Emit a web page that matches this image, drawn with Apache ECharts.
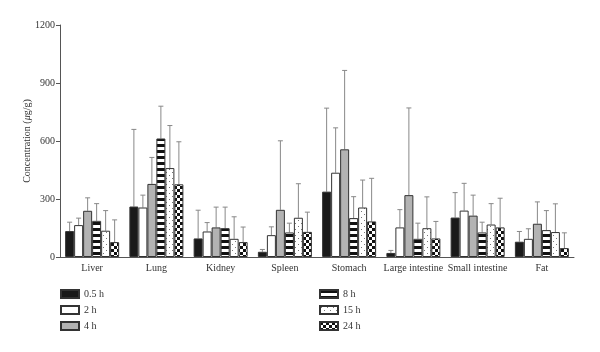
<!DOCTYPE html>
<html>
<head>
<meta charset="utf-8">
<script src="https://cdn.jsdelivr.net/npm/echarts@6/dist/echarts.min.js"></script>
<style>
  html, body { margin: 0; padding: 0; background: #fff; }
  #chart { width: 600px; height: 352px; }
</style>
</head>
<body>
<div id="chart"></div>
<script>
var organs = ['Liver', 'Lung', 'Kidney', 'Spleen', 'Stomach', 'Large intestine', 'Small intestine', 'Fat'];
var times = ['0.5 h', '2 h', '4 h', '8 h', '15 h', '24 h'];
var yTicks = [0, 300, 600, 900, 1200];

// mean concentration for each time point (one value per organ)
var h05 = [134, 261, 96, 27, 338, 21, 204, 79];
var h2 = [165, 256, 132, 113, 436, 153, 240, 94];
var h4 = [239, 378, 153, 244, 557, 320, 214, 172];
var h8 = [187, 613, 149, 127, 201, 94, 127, 139];
var h15 = [136, 460, 94, 203, 256, 149, 168, 129];
var h24 = [77, 376, 77, 130, 184, 96, 153, 46];

// standard deviations (upper error bars)
var sd05 = [46, 399, 146, 12, 432, 13, 129, 53];
var sd2 = [36, 64, 46, 43, 232, 92, 141, 52];
var sd4 = [67, 137, 105, 357, 408, 451, 106, 113];
var sd8 = [89, 167, 109, 48, 111, 81, 53, 101];
var sd15 = [104, 220, 114, 176, 142, 162, 108, 146];
var sd24 = [115, 220, 78, 102, 223, 88, 151, 79];

var means = [h05, h2, h4, h8, h15, h24];
var sds = [sd05, sd2, sd4, sd8, sd15, sd24];

var FONT = '"Liberation Serif", "DejaVu Serif", serif';
var BAR_W = 9;

// small canvas fills for the patterned bars
var makePattern = function(w, h, draw) {
  var c = document.createElement('canvas');
  c.width = w; c.height = h;
  var ctx = c.getContext('2d');
  ctx.fillStyle = '#fff';
  ctx.fillRect(0, 0, w, h);
  draw(ctx);
  return { image: c, repeat: 'repeat' };
};

var stripes = makePattern(6, 6, function(ctx) {
  ctx.fillStyle = '#111';
  ctx.fillRect(0, 0, 6, 3);
});
var dots = makePattern(6, 6, function(ctx) {
  ctx.fillStyle = '#777';
  ctx.fillRect(1, 1, 1, 1);
  ctx.fillRect(4, 4, 1, 1);
});
var checks = makePattern(6, 6, function(ctx) {
  ctx.fillStyle = '#111';
  ctx.fillRect(0, 0, 3, 3);
  ctx.fillRect(3, 3, 3, 3);
});

var fills = ['#1a1a1a', '#ffffff', '#b3b3b3', stripes, dots, checks];

var series = [];
times.forEach(function(t, i) {
  series.push({
    name: t,
    type: 'bar',
    barWidth: BAR_W,
    barGap: '0%',
    data: means[i],
    itemStyle: { color: fills[i], borderColor: '#333', borderWidth: 1 },
    emphasis: { disabled: true },
    z: 3
  });
});

// error bars, one custom series per time point, shifted onto its bar
times.forEach(function(t, i) {
  var offset = (i - 2.5) * BAR_W;
  var data = organs.map(function(o, k) { return [k, means[i][k], sds[i][k]]; });
  series.push({
    name: 'err ' + t,
    type: 'custom',
    data: data,
    z: 2,
    silent: true,
    renderItem: function(params, api) {
      var base = api.coord([api.value(0), api.value(1)]);
      var top = api.coord([api.value(0), api.value(1) + api.value(2)]);
      var x = base[0] + offset;
      var style = { stroke: '#888', lineWidth: 1 };
      return {
        type: 'group',
        children: [
          { type: 'line', shape: { x1: x, y1: base[1], x2: x, y2: top[1] }, style: style },
          { type: 'line', shape: { x1: x - 2.5, y1: top[1], x2: x + 2.5, y2: top[1] }, style: style }
        ]
      };
    }
  });
});

var legendText = { fontFamily: FONT, fontSize: 10, color: '#333', lineHeight: 12 };

var chart = echarts.init(document.getElementById('chart'));
chart.setOption({
  animation: false,
  backgroundColor: '#fff',
  textStyle: { fontFamily: FONT },
  grid: { left: 60, right: 26, top: 25, bottom: 95 },
  legend: [
    {
      left: 60, top: 288, orient: 'vertical', padding: 0,
      data: times.slice(0, 3),
      icon: 'rect', itemWidth: 18, itemHeight: 8, itemGap: 4,
      textStyle: legendText
    },
    {
      left: 319, top: 288, orient: 'vertical', padding: 0,
      data: times.slice(3),
      icon: 'rect', itemWidth: 18, itemHeight: 8, itemGap: 4,
      textStyle: legendText
    }
  ],
  xAxis: {
    type: 'category',
    data: organs,
    axisLine: { lineStyle: { color: '#555' } },
    axisTick: { alignWithLabel: true, length: 4, lineStyle: { color: '#555' } },
    axisLabel: { fontFamily: FONT, fontSize: 10, color: '#333', margin: 6, interval: 0 }
  },
  yAxis: {
    type: 'value',
    min: yTicks[0],
    max: yTicks[yTicks.length - 1],
    interval: 300,
    name: 'Concentration ({i|μ}g/g)',
    nameLocation: 'middle',
    nameGap: 28,
    nameMoveOverlap: false,
    nameTextStyle: {
      fontFamily: FONT, fontSize: 10, color: '#333',
      rich: { i: { fontFamily: FONT, fontSize: 10, fontStyle: 'italic', color: '#333' } }
    },
    axisLine: { show: true, lineStyle: { color: '#555' } },
    axisTick: { show: true, length: 4, lineStyle: { color: '#555' } },
    axisLabel: {
      fontFamily: FONT, fontSize: 10, color: '#333', margin: 5,
      formatter: function(v) { return String(v); }
    },
    splitLine: { show: false }
  },
  series: series
});
</script>
</body>
</html>
